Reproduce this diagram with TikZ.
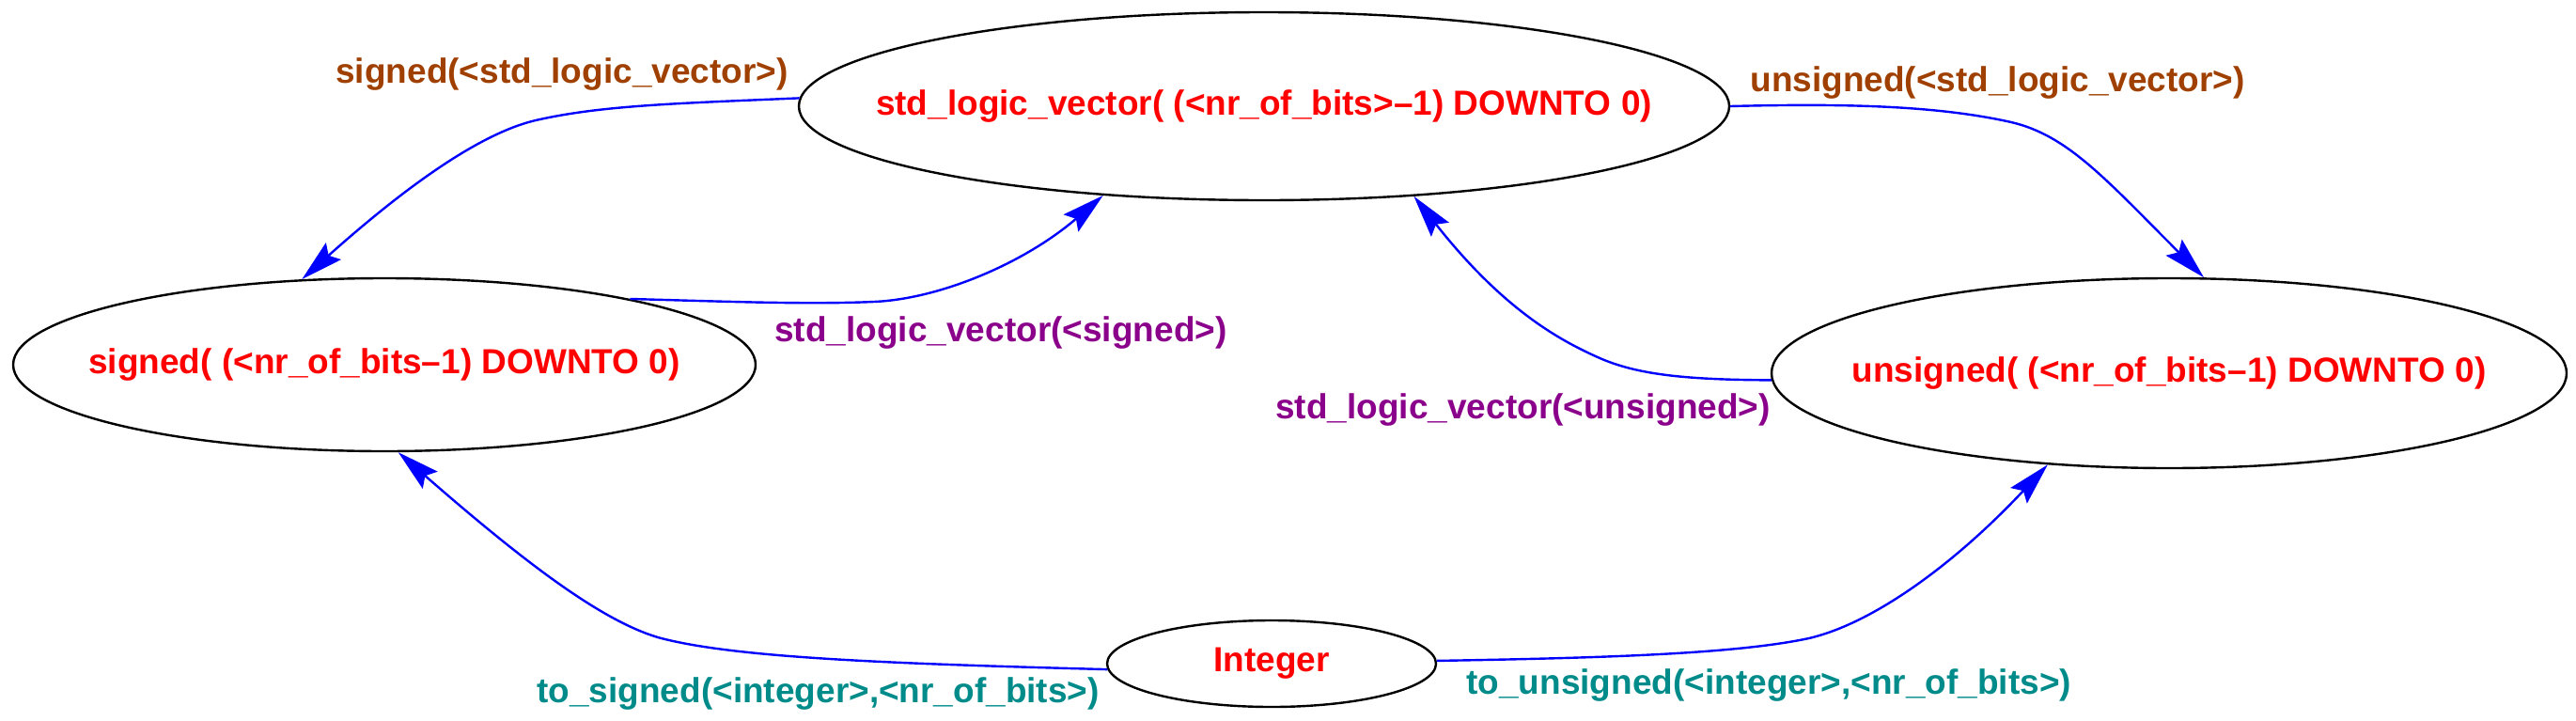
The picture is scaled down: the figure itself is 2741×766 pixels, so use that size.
\documentclass[tikz,border=0pt]{standalone}
\usepackage{fontspec}
\setmainfont{Liberation Sans}
\usetikzlibrary{arrows.meta,shapes.geometric}
\definecolor{lblbrown}{RGB}{160,64,0}
\definecolor{lblpurple}{RGB}{139,0,139}
\definecolor{lblteal}{RGB}{0,139,139}
\newcommand{\ztext}[1]{\makebox[0pt][c]{#1}}
\tikzset{
  state/.style={ellipse,draw=black,line width=1.2pt,inner sep=0pt,
    text=red,font=\fontsize{18.5}{22}\selectfont\bfseries},
  conv/.style={draw=blue,line width=1.2pt,
    -{Stealth[length=22.5pt,width=12pt,inset=3.5pt]},fill=none},
  lbl/.style={anchor=base west,inner sep=0pt,font=\fontsize{18.5}{22}\selectfont\bfseries}
}
\begin{document}
\begin{tikzpicture}[x=0.5pt,y=-0.5pt]
\useasboundingbox (0,0) rectangle (2741,766);
% states
\node[state,minimum width=495pt,minimum height=100pt] (slv) at (1345,113)
  {\ztext{std\_logic\_vector( (<nr\_of\_bits>\textendash1) DOWNTO 0)}};
\node[state,minimum width=395pt,minimum height=92pt] (signed) at (409,388)
  {\ztext{signed( (<nr\_of\_bits\textendash1) DOWNTO 0)}};
\node[state,minimum width=423pt,minimum height=101pt] (unsigned) at (2308,397)
  {\ztext{unsigned( (<nr\_of\_bits\textendash1) DOWNTO 0)}};
\node[state,minimum width=175pt,minimum height=46pt] (int) at (1353,706)
  {\ztext{Integer}};
% connectors
\draw[conv] (slv.179.3) .. controls (720,110) and (640,112) .. (570,128)
  .. controls (510,142) and (430,200) .. (signed.134.1);
\draw[conv] (signed.15.2) .. controls (780,321) and (860,324) .. (930,321)
  .. controls (1000,318) and (1090,280) .. (slv.209.8);
\draw[conv] (slv.0.7) .. controls (1960,110) and (2060,112) .. (2140,130)
  .. controls (2200,144) and (2240,190) .. (unsigned.70.4);
\draw[conv] (unsigned.181.5) .. controls (1790,404) and (1740,398) .. (1700,380)
  .. controls (1660,362) and (1600,330) .. (slv.329.4);
\draw[conv] (int.182) .. controls (950,706) and (780,700) .. (700,678)
  .. controls (640,660) and (560,600) .. (signed.279.3);
\draw[conv] (int.1) .. controls (1700,700) and (1840,696) .. (1920,680)
  .. controls (1990,666) and (2080,600) .. (unsigned.217);
% labels
\node[lbl,text=lblbrown] (l1) at (357,88) {signed(<std\_logic\_vector>)};
\node[lbl,text=lblpurple] (l2) at (824,363) {std\_logic\_vector(<signed>)};
\node[lbl,text=lblbrown] (l3) at (1862,97) {unsigned(<std\_logic\_vector>)};
\node[lbl,text=lblpurple] (l4) at (1357,445) {std\_logic\_vector(<unsigned>)};
\node[lbl,text=lblteal] (l5) at (571,747) {to\_signed(<integer>,<nr\_of\_bits>)};
\node[lbl,text=lblteal] (l6) at (1560,738) {to\_unsigned(<integer>,<nr\_of\_bits>)};
\end{tikzpicture}
\end{document}
